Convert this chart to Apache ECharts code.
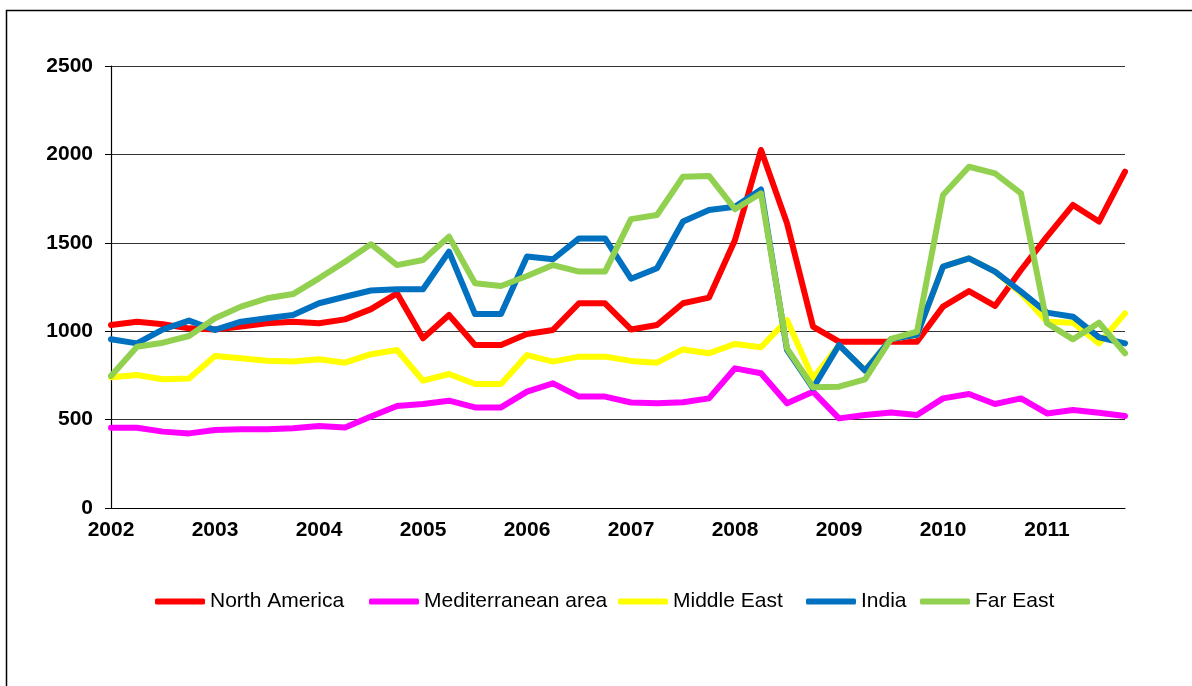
<!DOCTYPE html>
<html>
<head>
<meta charset="utf-8">
<style>
  html, body { margin: 0; padding: 0; background: #fff; }
  #chart { width: 1192px; height: 686px; }
</style>
<script src="https://cdn.jsdelivr.net/npm/echarts@6/dist/echarts.min.js"></script>
</head>
<body>
<div id="chart"></div>
<script>
// Quarterly values, 2002 Q1 .. 2011 Q4
const years = [2002, 2003, 2004, 2005, 2006, 2007, 2008, 2009, 2010, 2011];
const quarters = ['Q1', 'Q2', 'Q3', 'Q4'];
const yTicks = [0, 500, 1000, 1500, 2000, 2500];

const northAmerica = [1035, 1054, 1039, 1016, 1010, 1026, 1045, 1054, 1045, 1067,
  1125, 1214, 960, 1092, 922, 922, 984, 1007, 1158, 1158,
  1010, 1035, 1158, 1190, 1516, 2025, 1610, 1026, 941, 941,
  941, 941, 1139, 1227, 1143, 1346, 1535, 1714, 1620, 1902];
const mediterranean = [454, 454, 432, 422, 441, 445, 445, 451, 464, 455,
  517, 577, 588, 607, 569, 569, 658, 705, 630, 630,
  597, 592, 598, 620, 790, 762, 592, 658, 507, 526,
  540, 526, 620, 645, 588, 620, 535, 554, 539, 520];
const middleEast = [739, 752, 728, 733, 860, 847, 833, 828, 841, 822,
  870, 894, 720, 758, 701, 701, 865, 828, 856, 856,
  832, 822, 897, 875, 928, 909, 1063, 733, 920, 780,
  955, 979, 1365, 1412, 1337, 1215, 1054, 1048, 931, 1101];
const india = [954, 931, 1010, 1060, 1007, 1054, 1073, 1092, 1158, 1195,
  1230, 1237, 1237, 1450, 1097, 1097, 1422, 1407, 1525, 1525,
  1297, 1356, 1620, 1686, 1704, 1802, 894, 677, 922, 777,
  955, 979, 1365, 1412, 1337, 1224, 1105, 1082, 965, 931];
const farEast = [747, 912, 935, 973, 1073, 1139, 1186, 1210, 1299, 1393,
  1492, 1374, 1403, 1535, 1271, 1256, 1312, 1374, 1337, 1337,
  1634, 1657, 1874, 1878, 1690, 1780, 903, 683, 686, 728,
  957, 997, 1770, 1930, 1893, 1780, 1045, 954, 1048, 875];

const categories = [];
years.forEach(y => quarters.forEach(q => categories.push(y + ' ' + q)));

const seriesDefs = [
  { name: 'North America', data: northAmerica, color: '#FF0000' },
  { name: 'Mediterranean area', data: mediterranean, color: '#FF00FF' },
  { name: 'Middle East', data: middleEast, color: '#FFFF00' },
  { name: 'India', data: india, color: '#0070C0' },
  { name: 'Far East', data: farEast, color: '#92D050' }
];

// left edge of each legend entry along the bottom row
const legendLefts = [155, 369, 618, 806, 920];

const font = "'Liberation Sans', Arial, Helvetica, sans-serif";
const chart = echarts.init(document.getElementById('chart'));

chart.setOption({
  animation: false,
  backgroundColor: '#fff',
  graphic: [{
    type: 'rect',
    shape: { x: 6.5, y: 10.5, width: 1220, height: 720 },
    style: { fill: 'none', stroke: '#000', lineWidth: 1.5 },
    silent: true
  }],
  grid: { left: 111, right: 67, top: 66, bottom: 178, containLabel: false },
  legend: seriesDefs.map((s, i) => ({
    data: [s.name],
    left: legendLefts[i],
    top: 591,
    padding: 0,
    icon: 'roundRect',
    itemWidth: 50,
    itemHeight: 6,
    itemGap: 0,
    textStyle: { fontFamily: font, fontSize: 21, color: '#000' }
  })),
  xAxis: {
    type: 'category',
    data: categories,
    boundaryGap: false,
    axisLine: { show: true, lineStyle: { color: '#000', width: 1.2 } },
    axisTick: { show: false },
    axisLabel: {
      interval: 3,
      margin: 12,
      fontFamily: font,
      fontSize: 21,
      fontWeight: 'bold',
      color: '#000',
      formatter: v => v.slice(0, 4)
    },
    splitLine: { show: false }
  },
  yAxis: {
    type: 'value',
    min: yTicks[0],
    max: yTicks[yTicks.length - 1],
    interval: yTicks[1] - yTicks[0],
    axisLine: { show: true, lineStyle: { color: '#000', width: 1.2 } },
    axisTick: { show: true, inside: false, length: 6, lineStyle: { color: '#000' } },
    axisLabel: {
      margin: 18,
      fontFamily: font,
      fontSize: 21,
      fontWeight: 'bold',
      color: '#000',
      formatter: v => String(v)
    },
    splitLine: { show: true, lineStyle: { color: '#333', width: 1.2 } }
  },
  series: seriesDefs.map(s => ({
    name: s.name,
    type: 'line',
    data: s.data,
    symbol: 'none',
    smooth: false,
    color: s.color,
    lineStyle: { color: s.color, width: 6, join: 'round', cap: 'round' }
  }))
});
</script>
</body>
</html>
